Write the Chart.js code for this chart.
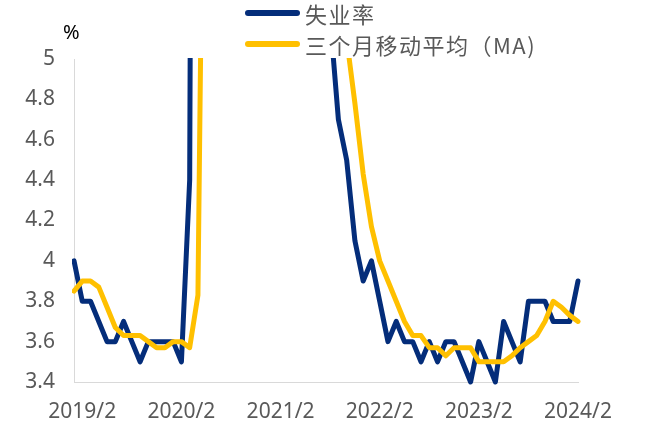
<!DOCTYPE html>
<html>
<head>
<meta charset="utf-8">
<script src="https://cdn.jsdelivr.net/npm/chart.js@4.4.1/dist/chart.umd.min.js"></script>
<style>
  body { margin: 0; background: #fff; }
  #wrap { position: relative; width: 660px; height: 426px; }
  .lg-line { position: absolute; left: 245px; width: 55px; height: 6px; border-radius: 3px; }
  .lg-text { position: absolute; left: 305px; font: 22px "Noto Sans CJK SC", sans-serif; color: #595959; letter-spacing: 1.5px; line-height: 24px; white-space: nowrap; }
  #unit { position: absolute; left: 63px; top: 18px; font: 20px "Noto Sans", sans-serif; color: #000; }
</style>
</head>
<body>
<div id="wrap">
  <canvas id="chart" width="660" height="426"></canvas>
  <div id="unit">%</div>
  <div class="lg-line" style="top:10px;background:#042D7A"></div>
  <div class="lg-text" style="top:1px">失业率</div>
  <div class="lg-line" style="top:41px;background:#FFC000"></div>
  <div class="lg-text" style="top:32px">三个月移动平均（MA)</div>
</div>
<script>
// months Jan 2019 .. Feb 2024
let months = [
    '2019/1', '2019/2', '2019/3', '2019/4', '2019/5', '2019/6', '2019/7', '2019/8', '2019/9', '2019/10', '2019/11', '2019/12',
    '2020/1', '2020/2', '2020/3', '2020/4', '2020/5', '2020/6', '2020/7', '2020/8', '2020/9', '2020/10', '2020/11', '2020/12',
    '2021/1', '2021/2', '2021/3', '2021/4', '2021/5', '2021/6', '2021/7', '2021/8', '2021/9', '2021/10', '2021/11', '2021/12',
    '2022/1', '2022/2', '2022/3', '2022/4', '2022/5', '2022/6', '2022/7', '2022/8', '2022/9', '2022/10', '2022/11', '2022/12',
    '2023/1', '2023/2', '2023/3', '2023/4', '2023/5', '2023/6', '2023/7', '2023/8', '2023/9', '2023/10', '2023/11', '2023/12',
    '2024/1', '2024/2'
];

let tickLabels = ['2019/2', '2020/2', '2021/2', '2022/2', '2023/2', '2024/2'];

let unemployment = [
    4.0, 3.8, 3.8, 3.7, 3.6, 3.6, 3.7, 3.6, 3.5, 3.6, 3.6, 3.6,
    3.6, 3.5, 4.4, 14.7, 13.2, 11.0, 10.2, 8.4, 7.9, 6.9, 6.7, 6.7,
    6.4, 6.2, 6.1, 6.1, 5.8, 5.9, 5.4, 5.2, 4.7, 4.5, 4.1, 3.9,
    4.0, 3.8, 3.6, 3.7, 3.6, 3.6, 3.5, 3.6, 3.5, 3.6, 3.6, 3.5,
    3.4, 3.6, 3.5, 3.4, 3.7, 3.6, 3.5, 3.8, 3.8, 3.8, 3.7, 3.7,
    3.7, 3.9
];

let movingAvg = [
    3.85, 3.9, 3.9, 3.87, 3.77, 3.67, 3.63, 3.63, 3.63, 3.6, 3.57, 3.57,
    3.6, 3.6, 3.57, 3.83, 7.53, 10.77, 12.97, 11.47, 9.87, 8.83, 7.73, 7.17,
    6.77, 6.6, 6.43, 6.23, 6.13, 6.0, 5.93, 5.7, 5.5, 5.1, 4.78, 4.43,
    4.17, 4.0, 3.9, 3.8, 3.7, 3.63, 3.63, 3.57, 3.57, 3.53, 3.57, 3.57,
    3.57, 3.5, 3.5, 3.5, 3.5, 3.53, 3.57, 3.6, 3.63, 3.7, 3.8, 3.77,
    3.73, 3.7
];

let yTicks = [3.4, 3.6, 3.8, 4.0, 4.2, 4.4, 4.6, 4.8, 5.0];

let tickFont = { family: '"Noto Sans", sans-serif', size: 21 };

let ctx = document.getElementById('chart').getContext('2d');
new Chart(ctx, {
    type: 'line',
    data: {
        labels: months,
        datasets: [{
            label: '失业率',
            data: unemployment,
            borderColor: '#042D7A',
            borderWidth: 5,
            order: 1
        }, {
            label: '三个月移动平均（MA)',
            data: movingAvg,
            borderColor: '#FFC000',
            borderWidth: 5,
            order: 0
        }]
    },
    options: {
        responsive: false,
        animation: false,
        layout: { padding: { left: 0, right: 82, top: 59, bottom: 0 } },
        elements: {
            point: { radius: 0 },
            line: { tension: 0, borderJoinStyle: 'round', borderCapStyle: 'round', fill: false }
        },
        datasets: { line: { clip: { left: 2, right: 5, top: 1, bottom: 5 } } },
        plugins: { legend: { display: false }, tooltip: { enabled: false } },
        scales: {
            x: {
                grid: { display: false },
                border: { display: true, color: '#d9d9d9', width: 1 },
                afterFit: s => { s.height = 44; },
                ticks: {
                    autoSkip: false,
                    maxRotation: 0,
                    padding: 9,
                    color: '#595959',
                    font: tickFont,
                    callback: function (v) {
                        let lab = this.getLabelForValue(v);
                        return tickLabels.includes(lab) ? lab : '';
                    }
                }
            },
            y: {
                min: 3.4,
                max: 5,
                grid: { display: false },
                border: { display: true, color: '#d9d9d9', width: 1 },
                afterFit: s => { s.width = 74; },
                afterBuildTicks: s => { s.ticks = yTicks.map(v => ({ value: v })); },
                ticks: {
                    padding: 11,
                    color: '#595959',
                    font: tickFont,
                    callback: v => String(Math.round(v * 10) / 10)
                }
            }
        }
    }
});
</script>
</body>
</html>
